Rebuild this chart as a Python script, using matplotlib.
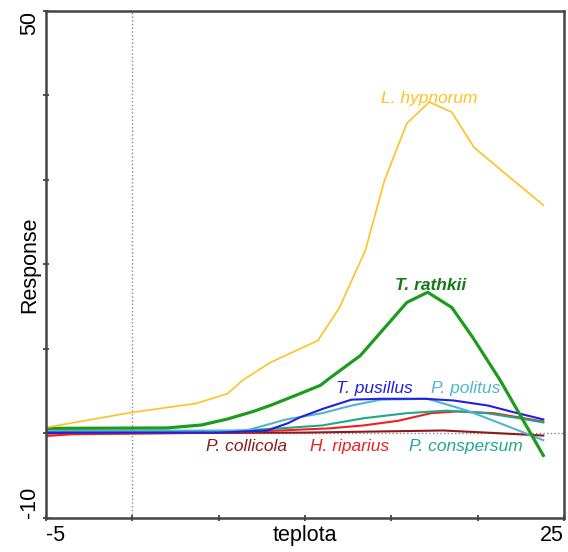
import matplotlib
matplotlib.use("Agg")
import matplotlib.pyplot as plt

plt.rcParams['font.family'] = ['Liberation Sans', 'DejaVu Sans']

# response curves along the temperature gradient (teplota)
hyp_x = [-5, 0, 3.7, 5.5, 6.4, 8.0, 10.75, 12.0, 13.5, 14.6, 15.9, 17.2, 18.5, 19.8, 21.5, 23.8]
hyp_y = [0.7, 2.5, 3.55, 4.7, 6.3, 8.4, 11.0, 14.9, 21.7, 29.9, 36.7, 39.2, 38.0, 33.8, 30.9, 27.0]

rat_x = [-5, 2.0, 4.0, 5.5, 7.0, 8.1, 9.7, 10.9, 11.4, 13.2, 15.9, 17.1, 18.5, 19.7, 21.3, 23.8]
rat_y = [0.6, 0.65, 1.0, 1.7, 2.6, 3.4, 4.7, 5.7, 6.5, 9.2, 15.5, 16.7, 14.9, 11.4, 6.3, -2.6]

pus_x = [-5, 5.0, 7.8, 9.0, 9.7, 11.1, 12.7, 14.4, 16.9, 18.6, 20.6, 22.1, 23.8]
pus_y = [0.1, 0.1, 0.35, 1.2, 1.9, 2.96, 4.0, 4.1, 4.1, 3.9, 3.3, 2.5, 1.66]

pol_x = [-5, 6.6, 8.9, 11.0, 12.7, 14.4, 17.1, 19.4, 21.3, 23.8]
pol_y = [0.3, 0.35, 1.65, 2.4, 3.3, 4.0, 4.1, 2.7, 1.2, -0.8]

con_x = [-5, 5.0, 8.55, 11.0, 13.4, 15.9, 18.2, 20.5, 22.4, 23.8]
con_y = [0.2, 0.2, 0.6, 0.95, 1.8, 2.4, 2.7, 2.4, 1.8, 1.3]

rip_x = [-5, -3.5, 5.0, 8.55, 11.4, 13.4, 15.4, 17.3, 18.8, 20.9, 22.4, 23.8]
rip_y = [-0.3, -0.1, 0.1, 0.35, 0.6, 0.95, 1.5, 2.4, 2.6, 2.4, 1.9, 1.4]

col_x = [-5, 10.0, 18.0, 20.5, 23.8]
col_y = [0.0, 0.1, 0.35, 0.1, -0.25]

fig = plt.figure(figsize=(5.68, 5.52), dpi=100)
ax = fig.add_axes([0.081, 0.0616, 0.912, 0.9190])

ax.axvline(0, color='#888888', lw=1, ls=':', zorder=1)
ax.axhline(0, color='#888888', lw=1, ls=':', zorder=1)

ax.plot(col_x, col_y, color='#8b1a1a', lw=1.5)
ax.plot(rip_x, rip_y, color='#f02020', lw=1.5)
ax.plot(con_x, con_y, color='#20a88a', lw=1.5)
ax.plot(pol_x, pol_y, color='#50b4d0', lw=1.5)
ax.plot(pus_x, pus_y, color='#2020e0', lw=1.5)
ax.plot(rat_x, rat_y, color='#1e9b1e', lw=2.3)
ax.plot(hyp_x, hyp_y, color='#ffc125', lw=1.2)

lab = dict(ha='center', va='center', fontsize=12.5, style='italic')
ax.text(17.2, 39.6, 'L. hypnorum', color='#ffc125', **lab)
ax.text(17.3, 17.5, 'T. rathkii', color='#157a15', weight='bold', **lab)
ax.text(14.0, 5.3, 'T. pusillus', color='#2020e0', **lab)
ax.text(19.3, 5.3, 'P. politus', color='#50b4d0', **lab)
ax.text(6.6, -1.55, 'P. collicola', color='#8b1a1a', **lab)
ax.text(12.6, -1.55, 'H. riparius', color='#f02020', **lab)
ax.text(19.3, -1.55, 'P. conspersum', color='#20a88a', **lab)

ax.set_xlim(-5, 25)
ax.set_ylim(-10, 50)
ax.set_xticks(range(-5, 26, 5))
ax.set_yticks(range(-10, 51, 10))
ax.set_xticklabels([])
ax.set_yticklabels([])
ax.tick_params(direction='inout', length=5, width=1.2, color='#333333')
for s in ax.spines.values():
    s.set_color('#444444')
    s.set_linewidth(1.8)

# axis end labels, aligned with the frame corners
big = dict(fontsize=15.5, color='black')
ax.text(0, -0.014, '-5', transform=ax.transAxes, ha='left', va='top', **big)
ax.text(1, -0.014, '25', transform=ax.transAxes, ha='right', va='top', **big)
ax.text(0.5, -0.014, 'teplota', transform=ax.transAxes, ha='center', va='top', **big)
ax.text(-0.012, 1, '50', transform=ax.transAxes, ha='right', va='top', rotation=90, **big)
ax.text(-0.012, 0, '-10', transform=ax.transAxes, ha='right', va='bottom', rotation=90, **big)
ax.text(-0.012, 0.5, 'Response', transform=ax.transAxes, ha='right', va='center', rotation=90, **big)

fig.savefig('out.png', dpi=100)
